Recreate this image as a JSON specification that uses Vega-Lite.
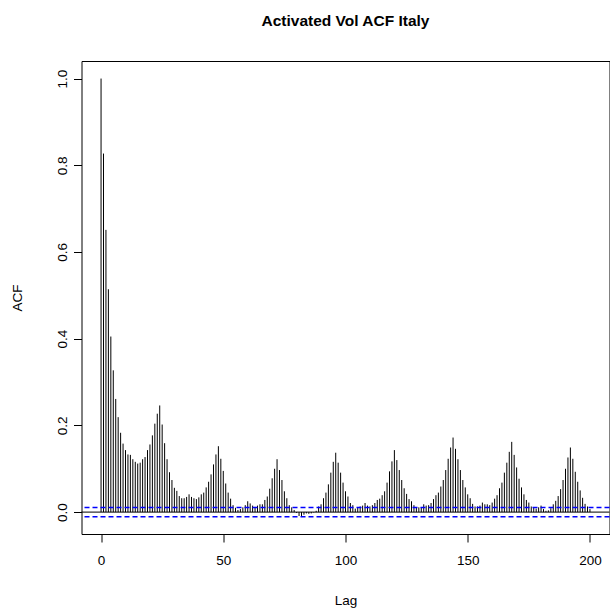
{
  "$schema": "https://vega.github.io/schema/vega-lite/v6.json",
  "autosize": "none",
  "width": 528,
  "height": 473,
  "padding": {"left": 81.5, "top": 61, "right": 0, "bottom": 79},
  "background": "white",
  "title": {"text": "Activated Vol ACF Italy", "fontSize": 15.5, "fontWeight": "bold", "font": "Liberation Sans", "anchor": "middle", "offset": 32, "color": "black"},
  "config": {
    "view": {"stroke": "black", "strokeWidth": 1},
    "axis": {"grid": false, "domain": false, "tickColor": "black", "tickSize": 8, "labelFont": "Liberation Sans", "labelFontSize": 13.5, "labelColor": "black", "titleFont": "Liberation Sans", "titleFontSize": 13.5, "titleFontWeight": "normal", "titleColor": "black"}
  },
  "datasets": {
    "acf": [
      {"lag":0,"acf":1.0},{"lag":1,"acf":0.827},{"lag":2,"acf":0.651},{"lag":3,"acf":0.514},{"lag":4,"acf":0.405},{"lag":5,"acf":0.327},{"lag":6,"acf":0.261},{"lag":7,"acf":0.219},{"lag":8,"acf":0.183},{"lag":9,"acf":0.158},
      {"lag":10,"acf":0.143},{"lag":11,"acf":0.133},{"lag":12,"acf":0.132},{"lag":13,"acf":0.122},{"lag":14,"acf":0.116},{"lag":15,"acf":0.112},{"lag":16,"acf":0.114},{"lag":17,"acf":0.122},{"lag":18,"acf":0.127},{"lag":19,"acf":0.143},
      {"lag":20,"acf":0.156},{"lag":21,"acf":0.177},{"lag":22,"acf":0.204},{"lag":23,"acf":0.227},{"lag":24,"acf":0.246},{"lag":25,"acf":0.202},{"lag":26,"acf":0.159},{"lag":27,"acf":0.122},{"lag":28,"acf":0.092},{"lag":29,"acf":0.074},
      {"lag":30,"acf":0.056},{"lag":31,"acf":0.049},{"lag":32,"acf":0.037},{"lag":33,"acf":0.032},{"lag":34,"acf":0.032},{"lag":35,"acf":0.035},{"lag":36,"acf":0.041},{"lag":37,"acf":0.035},{"lag":38,"acf":0.032},{"lag":39,"acf":0.030},
      {"lag":40,"acf":0.034},{"lag":41,"acf":0.041},{"lag":42,"acf":0.045},{"lag":43,"acf":0.057},{"lag":44,"acf":0.070},{"lag":45,"acf":0.087},{"lag":46,"acf":0.110},{"lag":47,"acf":0.133},{"lag":48,"acf":0.152},{"lag":49,"acf":0.123},
      {"lag":50,"acf":0.095},{"lag":51,"acf":0.066},{"lag":52,"acf":0.045},{"lag":53,"acf":0.031},{"lag":54,"acf":0.016},{"lag":55,"acf":0.010},{"lag":56,"acf":0.005},{"lag":57,"acf":0.007},{"lag":58,"acf":0.011},{"lag":59,"acf":0.016},
      {"lag":60,"acf":0.025},{"lag":61,"acf":0.020},{"lag":62,"acf":0.015},{"lag":63,"acf":0.012},{"lag":64,"acf":0.015},{"lag":65,"acf":0.018},{"lag":66,"acf":0.018},{"lag":67,"acf":0.028},{"lag":68,"acf":0.036},{"lag":69,"acf":0.054},
      {"lag":70,"acf":0.078},{"lag":71,"acf":0.100},{"lag":72,"acf":0.122},{"lag":73,"acf":0.097},{"lag":74,"acf":0.074},{"lag":75,"acf":0.048},{"lag":76,"acf":0.032},{"lag":77,"acf":0.016},{"lag":78,"acf":0.011},{"lag":79,"acf":0.005},
      {"lag":80,"acf":-0.002},{"lag":81,"acf":-0.009},{"lag":82,"acf":-0.009},{"lag":83,"acf":-0.006},{"lag":84,"acf":-0.003},{"lag":85,"acf":-0.004},{"lag":86,"acf":-0.003},{"lag":87,"acf":-0.001},{"lag":88,"acf":0.003},{"lag":89,"acf":0.013},
      {"lag":90,"acf":0.018},{"lag":91,"acf":0.032},{"lag":92,"acf":0.045},{"lag":93,"acf":0.064},{"lag":94,"acf":0.091},{"lag":95,"acf":0.116},{"lag":96,"acf":0.137},{"lag":97,"acf":0.114},{"lag":98,"acf":0.091},{"lag":99,"acf":0.068},
      {"lag":100,"acf":0.048},{"lag":101,"acf":0.036},{"lag":102,"acf":0.021},{"lag":103,"acf":0.016},{"lag":104,"acf":0.008},{"lag":105,"acf":0.011},{"lag":106,"acf":0.013},{"lag":107,"acf":0.015},{"lag":108,"acf":0.021},{"lag":109,"acf":0.015},
      {"lag":110,"acf":0.013},{"lag":111,"acf":0.016},{"lag":112,"acf":0.021},{"lag":113,"acf":0.028},{"lag":114,"acf":0.031},{"lag":115,"acf":0.039},{"lag":116,"acf":0.048},{"lag":117,"acf":0.068},{"lag":118,"acf":0.094},{"lag":119,"acf":0.117},
      {"lag":120,"acf":0.143},{"lag":121,"acf":0.120},{"lag":122,"acf":0.097},{"lag":123,"acf":0.074},{"lag":124,"acf":0.055},{"lag":125,"acf":0.042},{"lag":126,"acf":0.030},{"lag":127,"acf":0.025},{"lag":128,"acf":0.016},{"lag":129,"acf":0.011},
      {"lag":130,"acf":0.011},{"lag":131,"acf":0.011},{"lag":132,"acf":0.018},{"lag":133,"acf":0.015},{"lag":134,"acf":0.016},{"lag":135,"acf":0.021},{"lag":136,"acf":0.030},{"lag":137,"acf":0.039},{"lag":138,"acf":0.045},{"lag":139,"acf":0.059},
      {"lag":140,"acf":0.074},{"lag":141,"acf":0.097},{"lag":142,"acf":0.123},{"lag":143,"acf":0.149},{"lag":144,"acf":0.172},{"lag":145,"acf":0.146},{"lag":146,"acf":0.122},{"lag":147,"acf":0.097},{"lag":148,"acf":0.074},{"lag":149,"acf":0.057},
      {"lag":150,"acf":0.041},{"lag":151,"acf":0.032},{"lag":152,"acf":0.019},{"lag":153,"acf":0.013},{"lag":154,"acf":0.013},{"lag":155,"acf":0.015},{"lag":156,"acf":0.022},{"lag":157,"acf":0.018},{"lag":158,"acf":0.018},{"lag":159,"acf":0.016},
      {"lag":160,"acf":0.022},{"lag":161,"acf":0.031},{"lag":162,"acf":0.039},{"lag":163,"acf":0.055},{"lag":164,"acf":0.068},{"lag":165,"acf":0.091},{"lag":166,"acf":0.114},{"lag":167,"acf":0.139},{"lag":168,"acf":0.162},{"lag":169,"acf":0.132},
      {"lag":170,"acf":0.103},{"lag":171,"acf":0.077},{"lag":172,"acf":0.057},{"lag":173,"acf":0.041},{"lag":174,"acf":0.028},{"lag":175,"acf":0.022},{"lag":176,"acf":0.013},{"lag":177,"acf":0.010},{"lag":178,"acf":0.008},{"lag":179,"acf":0.011},
      {"lag":180,"acf":0.015},{"lag":181,"acf":0.007},{"lag":182,"acf":0.003},{"lag":183,"acf":0.004},{"lag":184,"acf":0.009},{"lag":185,"acf":0.018},{"lag":186,"acf":0.026},{"lag":187,"acf":0.037},{"lag":188,"acf":0.053},{"lag":189,"acf":0.074},
      {"lag":190,"acf":0.100},{"lag":191,"acf":0.126},{"lag":192,"acf":0.149},{"lag":193,"acf":0.123},{"lag":194,"acf":0.093},{"lag":195,"acf":0.070},{"lag":196,"acf":0.050},{"lag":197,"acf":0.033},{"lag":198,"acf":0.019},{"lag":199,"acf":0.013},
      {"lag":200,"acf":0.007}
    ],
    "ci": [{"ci": 0.0105}, {"ci": -0.0105}]
  },
  "layer": [
    {
      "data": {"name": "acf"},
      "mark": {"type": "rule", "color": "black", "strokeWidth": 1},
      "encoding": {
        "x": {"field": "lag", "type": "quantitative", "scale": {"domain": [-8, 208], "nice": false, "zero": false},
              "axis": {"values": [0, 50, 100, 150, 200], "labelPadding": 11, "title": "Lag", "titleX": 264, "titleY": 66, "titleBaseline": "middle", "titleAnchor": null}},
        "y": {"field": "acf", "type": "quantitative", "scale": {"domain": [-0.0505, 1.0405], "nice": false, "zero": false},
              "axis": {"values": [0, 0.2, 0.4, 0.6, 0.8, 1.0], "format": ".1f", "labelAngle": -90, "labelAlign": "center", "labelBaseline": "bottom", "labelPadding": 4,
                       "title": "ACF", "titleAngle": -90, "titleX": -64, "titleY": 236.5, "titleAlign": "center", "titleBaseline": "middle"}},
        "y2": {"datum": 0}
      }
    },
    {
      "data": {"values": [{"z": 0}]},
      "mark": {"type": "rule", "color": "black", "strokeWidth": 1},
      "encoding": {"y": {"field": "z", "type": "quantitative"}}
    },
    {
      "data": {"name": "ci"},
      "mark": {"type": "rule", "color": "#0000FF", "strokeWidth": 1.5, "strokeDash": [5, 3]},
      "encoding": {"y": {"field": "ci", "type": "quantitative"}}
    }
  ]
}
